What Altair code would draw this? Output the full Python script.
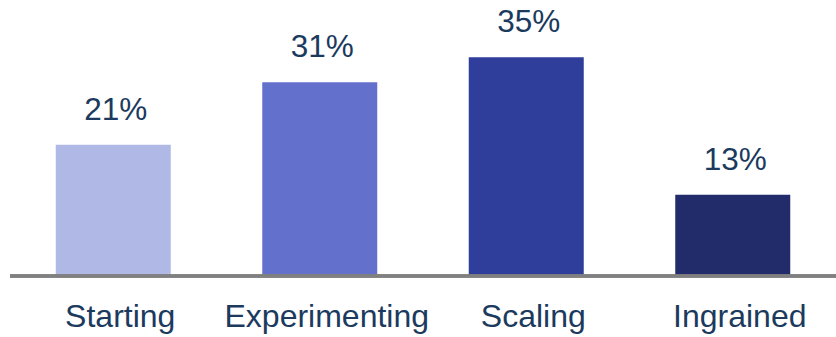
import altair as alt
import pandas as pd

categories = ["Starting", "Experimenting", "Scaling", "Ingrained"]
values = [21, 31, 35, 13]
labels = ["21%", "31%", "35%", "13%"]
colors = ["#b0b8e6", "#6371cd", "#2e3e9a", "#222c6a"]

df = pd.DataFrame({"cat": categories, "val": values, "label": labels})

TEXT = "#1b3a5e"
FONT = "Liberation Sans"

x = alt.X("cat:N", sort=categories, title=None,
          scale=alt.Scale(paddingInner=0.443, paddingOuter=0.2215),
          axis=alt.Axis(domain=False, ticks=False, labelAngle=0, labelFontSize=32,
                        labelFont=FONT, labelColor=TEXT, labelPadding=50, labelLimit=0,
                        labelOffset=7, labelBaseline="alphabetic"))
y = alt.Y("val:Q", title=None, scale=alt.Scale(domain=[0, 44.16], nice=False, zero=True),
          axis=None)

bars = alt.Chart(df).mark_bar(size=115).encode(
    x=x, y=y,
    color=alt.Color("cat:N", sort=categories,
                    scale=alt.Scale(domain=categories, range=colors), legend=None),
)

text = alt.Chart(df).mark_text(fontSize=31.5, font=FONT, color=TEXT, dy=-25, dx=2.5,
                               baseline="alphabetic").encode(
    x=alt.X("cat:N", sort=categories), y="val:Q", text="label:N")

rule = alt.Chart(df).mark_rule(color="#808080", strokeWidth=3).encode(
    x=alt.value(0), x2=alt.value(826), y=alt.datum(0))

chart = alt.layer(bars, rule, text).properties(
    width=826, height=276,
    padding={"left": 10, "top": 0, "right": 0, "bottom": 61},
    autosize=alt.AutoSizeParams(type="none"),
).configure_view(stroke=None)

chart.save("out.html", embed_options={"renderer": "svg", "actions": False})
